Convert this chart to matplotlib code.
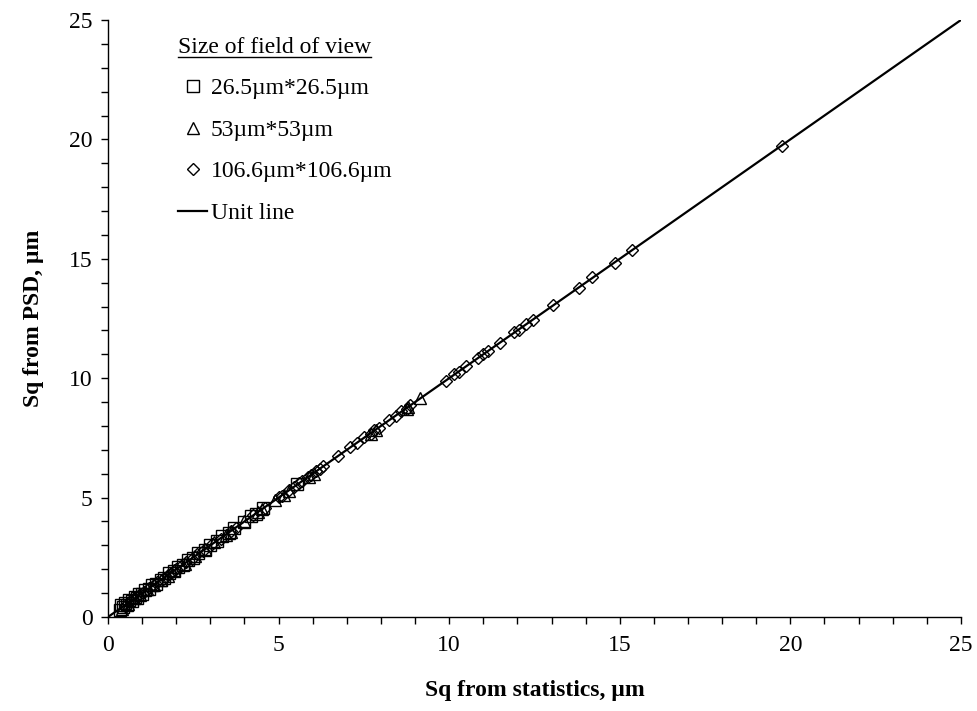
import matplotlib
matplotlib.use("Agg")
import matplotlib.pyplot as plt
from matplotlib.lines import Line2D
from matplotlib.ticker import MultipleLocator

plt.rcParams['font.family'] = ['Liberation Serif', 'DejaVu Serif']

# Sq, um
sq_stat_26 = [0.35, 0.38, 0.45, 0.5, 0.55, 0.62, 0.7, 0.78, 0.85, 0.92,
              1.0, 1.1, 1.2, 1.3, 1.42, 1.55, 1.65, 1.8, 1.95, 2.05,
              2.2, 2.35, 2.5, 2.65, 2.85, 3.0, 3.2, 3.35, 3.55, 3.7,
              4.0, 4.2, 4.35, 4.55, 5.55]
sq_psd_26 = [0.28, 0.52, 0.42, 0.6, 0.5, 0.7, 0.66, 0.85, 0.8, 0.97,
             0.95, 1.12, 1.18, 1.33, 1.4, 1.57, 1.62, 1.83, 1.93, 2.08,
             2.17, 2.38, 2.47, 2.68, 2.82, 3.03, 3.17, 3.38, 3.52, 3.73,
             3.98, 4.23, 4.32, 4.58, 5.58]

sq_stat_53 = [0.4, 0.6, 0.75, 0.95, 1.15, 1.35, 1.55, 1.75, 1.95, 2.25,
              2.55, 2.85, 3.1, 3.45, 3.6, 4.0, 4.4, 4.5, 4.9, 5.15,
              5.3, 5.9, 6.05, 7.7, 7.85, 8.75, 8.8, 9.15]
sq_psd_53 = [0.35, 0.55, 0.78, 0.92, 1.17, 1.33, 1.57, 1.73, 1.97, 2.22,
             2.57, 2.83, 3.12, 3.43, 3.58, 4.02, 4.38, 4.52, 4.88, 5.12,
             5.28, 5.85, 6.0, 7.68, 7.82, 8.7, 8.78, 9.17]

sq_stat_106 = [0.5, 0.65, 0.8, 0.95, 1.05, 1.2, 1.35, 1.45, 1.6, 1.75,
               1.85, 2.0, 2.15, 2.3, 2.45, 2.6, 2.8, 3.05, 3.3, 3.6,
               3.75, 4.25, 4.6, 5.0, 5.1, 5.3, 5.45, 5.6, 5.7, 5.85,
               5.95, 6.1, 6.2, 6.3, 6.75, 7.1, 7.3, 7.5, 7.7, 7.8,
               7.95, 8.25, 8.45, 8.6, 8.75, 8.85, 9.9, 10.15, 10.3, 10.5,
               10.85, 11.0, 11.15, 11.5, 11.9, 12.05, 12.25, 12.45, 13.05, 13.8,
               14.2, 14.85, 15.35, 19.75]
sq_psd_106 = [0.48, 0.68, 0.78, 0.97, 1.03, 1.22, 1.33, 1.47, 1.58, 1.77,
              1.83, 2.02, 2.13, 2.32, 2.43, 2.62, 2.78, 3.07, 3.28, 3.62,
              3.73, 4.27, 4.58, 5.02, 5.08, 5.32, 5.43, 5.62, 5.68, 5.87,
              5.93, 6.12, 6.18, 6.32, 6.73, 7.12, 7.28, 7.52, 7.68, 7.82,
              7.93, 8.27, 8.43, 8.62, 8.73, 8.87, 9.88, 10.17, 10.28, 10.52,
              10.83, 11.02, 11.13, 11.48, 11.92, 12.03, 12.27, 12.43, 13.07, 13.78,
              14.22, 14.83, 15.37, 19.73]

unit_line = [0, 25]

fig = plt.figure(figsize=(9.77, 7.11), dpi=100)
ax = fig.add_axes([0.1105, 0.1322, 0.8731, 0.8397])

ax.plot(sq_stat_26, sq_psd_26, ls='none', marker='s', ms=8.5, mfc='none',
        mec='black', mew=1.0, label='26.5\u00b5m*26.5\u00b5m')
ax.plot(sq_stat_53, sq_psd_53, ls='none', marker='^', ms=8, mfc='none',
        mec='black', mew=1.0, label='53\u00b5m*53\u00b5m')
ax.plot(sq_stat_106, sq_psd_106, ls='none', marker='D', ms=6.5, mfc='none',
        mec='black', mew=1.0, label='106.6\u00b5m*106.6\u00b5m')
ax.plot(unit_line, unit_line, color='black', lw=1.6, label='Unit line')

ax.set_xlim(0, 25)
ax.set_ylim(0, 25)
ax.xaxis.set_major_locator(MultipleLocator(5))
ax.yaxis.set_major_locator(MultipleLocator(5))
ax.xaxis.set_minor_locator(MultipleLocator(1))
ax.yaxis.set_minor_locator(MultipleLocator(1))
ax.tick_params(which='both', direction='out', length=5, width=1, labelsize=17)
ax.tick_params(axis='x', pad=8)
ax.tick_params(axis='y', pad=6)

for s in ['top', 'right']:
    ax.spines[s].set_visible(False)
for s in ['left', 'bottom']:
    ax.spines[s].set_linewidth(1.0)

ax.set_xlabel('Sq from statistics, \u00b5m', fontsize=17, fontweight='bold', labelpad=17)
ax.set_ylabel('Sq from PSD, \u00b5m', fontsize=17, fontweight='bold', labelpad=18)

leg = ax.legend(loc='upper left', bbox_to_anchor=(0.082, 0.972), frameon=False,
                fontsize=17, title='Size of field of view', title_fontsize=17,
                alignment='left', handlelength=1.25, handletextpad=0.15,
                labelspacing=0.85, borderpad=0, borderaxespad=0)

# underline the legend title
fig.canvas.draw()
tb = leg.get_title().get_window_extent()
inv = fig.transFigure.inverted()
(x0, y0), (x1, _) = inv.transform([(tb.x0, tb.y0 + 1), (tb.x1, tb.y0)])
fig.add_artist(Line2D([x0, x1], [y0, y0], color='black', lw=1.0,
                      transform=fig.transFigure))

fig.savefig('out.png', dpi=100)
